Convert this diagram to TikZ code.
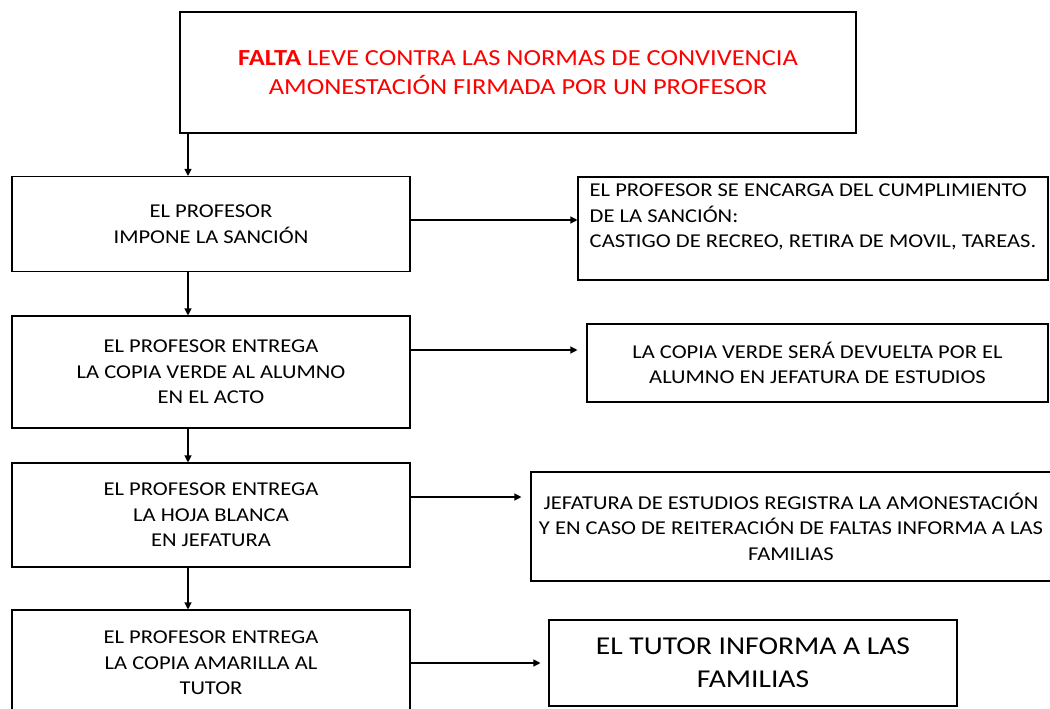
\documentclass[tikz,border=0pt]{standalone}
\usetikzlibrary{arrows.meta}
\usepackage{fontspec}
\setmainfont{Carlito}[FakeStretch=1.15]

\tikzset{
	caja/.style={draw,line width=1.1pt,inner sep=0pt,align=center,
		font=\fontsize{19.6}{25.5}\selectfont},
	paso/.style={caja,minimum width=398,minimum height=#1},
}

\begin{document}
\begin{tikzpicture}[x=1pt,y=-1pt,>={Triangle[length=7pt,width=7pt]}]
	\useasboundingbox (0,0) rectangle (1050,709);
	\clip (0,0) rectangle (1050,709);
	\coordinate (eje) at (188,0);
	% cabecera
	\node[caja,minimum width=676,minimum height=121,text=red,
		font=\fontsize{23}{29}\selectfont] (falta) at (518,72.5)
		{\textbf{FALTA} LEVE CONTRA LAS NORMAS DE CONVIVENCIA\\
		AMONESTACIÓN FIRMADA POR UN PROFESOR};
	% pasos del profesor
	\node[paso=95]  (prof1) at (211,224) {EL PROFESOR\\IMPONE LA SANCIÓN};
	\node[paso=112] (prof2) at (211,372) {EL PROFESOR ENTREGA\\LA COPIA VERDE AL ALUMNO\\EN EL ACTO};
	\node[paso=104] (prof3) at (211,515) {EL PROFESOR ENTREGA\\LA HOJA BLANCA\\EN JEFATURA};
	\node[paso=106] (prof4) at (211,663) {EL PROFESOR ENTREGA\\LA COPIA AMARILLA AL\\TUTOR};
	% consecuencias
	\node[caja,minimum width=470,minimum height=103,align=left]
		(res1) at (813,228.5) {EL PROFESOR SE ENCARGA DEL CUMPLIMIENTO\\DE LA SANCIÓN:\\
		CASTIGO DE RECREO, RETIRA DE MOVIL, TAREAS.\\~};
	\node[caja,minimum width=461,minimum height=78] (res2) at (817.5,363)
		{LA COPIA VERDE SERÁ DEVUELTA POR EL\\ALUMNO EN JEFATURA DE ESTUDIOS};
	\node[caja,minimum width=520,minimum height=109] (res3) at (791,526.5)
		{JEFATURA DE ESTUDIOS REGISTRA LA AMONESTACIÓN\\
		Y EN CASO DE REITERACIÓN DE FALTAS INFORMA A LAS\\FAMILIAS};
	\node[caja,minimum width=408,minimum height=86,
		font=\fontsize{25.7}{33}\selectfont] (res4) at (753,663)
		{EL TUTOR INFORMA A LAS\\FAMILIAS};
	% flechas
	\foreach \a/\b in {falta/prof1,prof1/prof2,prof2/prof3,prof3/prof4}
		\draw[->,line width=1.2pt] (\a.south -| eje) -- (\b.north -| eje);
	\foreach \n/\s/\g in {1/4/0,2/22/9,3/18/9,4/0/8}
		\draw[->,line width=1.2pt,shorten >=\g pt] ([yshift=\s pt]prof\n.east)
			-- ([yshift=\s pt]prof\n.east -| res\n.west);
\end{tikzpicture}
\end{document}
